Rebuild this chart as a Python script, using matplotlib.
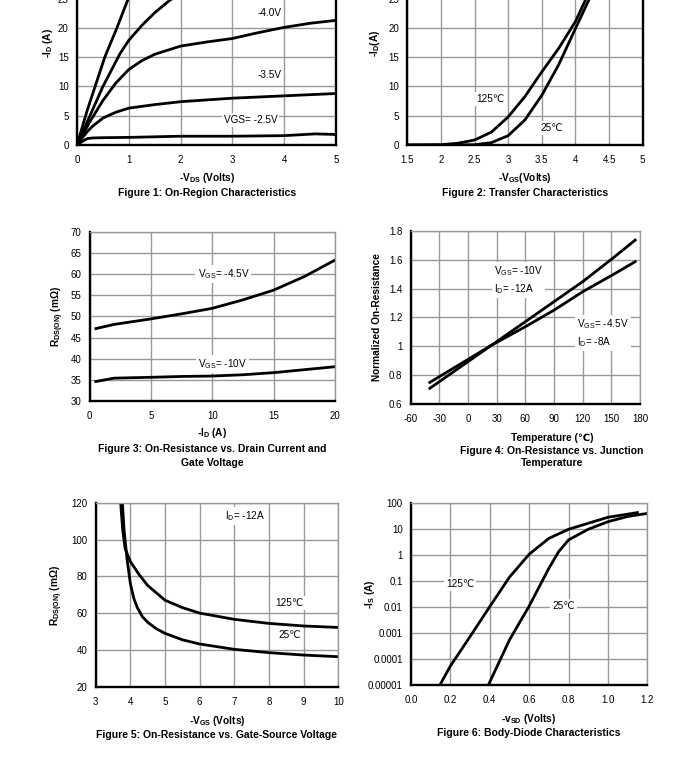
import numpy as np
import matplotlib.pyplot as plt

plt.rcParams['font.family'] = ['Liberation Sans', 'DejaVu Sans']
plt.rcParams['mathtext.default'] = 'regular'
plt.rcParams['axes.unicode_minus'] = False

W, H = 689, 767

# ---- Figure 1: on-region characteristics
vds_1 = [0, 0.1, 0.2, 0.3, 0.5, 1, 2, 3, 4, 4.6, 5]
id_1 = [0, 0.6, 1.1, 1.2, 1.25, 1.3, 1.5, 1.5, 1.6, 1.9, 1.8]
vds_2 = [0, 0.1, 0.2, 0.3, 0.5, 0.75, 1, 1.5, 2, 3, 4, 5]
id_2 = [0, 1.2, 2.3, 3.2, 4.6, 5.6, 6.3, 6.9, 7.4, 8.0, 8.4, 8.8]
vds_3 = [0, 0.1, 0.25, 0.5, 0.75, 1, 1.25, 1.5, 2, 2.5, 3, 3.5, 4, 4.5, 5]
id_3 = [0, 1.6, 4.0, 7.6, 10.6, 12.9, 14.4, 15.5, 16.9, 17.6, 18.2, 19.2, 20.1, 20.8, 21.3]
vds_4 = [0, 0.25, 0.5, 0.83, 1.0, 1.27, 1.5, 1.8, 2.5, 3]
id_4 = [0, 5, 10, 15.6, 17.9, 20.6, 22.6, 24.8, 28, 30]
vds_5 = [0, 0.2, 0.54, 0.77, 0.98, 1.3]
id_5 = [0, 6, 15.1, 20, 24.8, 31]

# ---- Figure 2: transfer characteristics
vgs_t = [1.5, 2.0, 2.25, 2.5, 2.75, 3.0, 3.25, 3.5, 3.75, 4.0, 4.15, 4.3]
id_125 = [0, 0.05, 0.3, 0.85, 2.2, 4.8, 8.3, 12.5, 16.5, 21.1, 24.8, 28]
vgs_t25 = [1.5, 2.0, 2.5, 2.75, 3.0, 3.25, 3.5, 3.75, 4.0, 4.2, 4.35]
id_25 = [0, 0, 0.05, 0.4, 1.6, 4.3, 8.5, 13.7, 19.9, 24.8, 28]

# ---- Figure 3: Rds(on) vs drain current
id_r = [0.5, 2, 5, 7.5, 10, 12.5, 15, 17.5, 20]
r_45 = [47.1, 48.1, 49.4, 50.6, 51.9, 53.9, 56.2, 59.4, 63.3]
r_10 = [34.6, 35.4, 35.6, 35.8, 35.9, 36.2, 36.7, 37.4, 38.1]

# ---- Figure 4: normalized Rds(on) vs temperature
temp = [-40, 25, 60, 90, 120, 150, 175]
rn_10 = [0.707, 1.008, 1.17, 1.309, 1.448, 1.603, 1.737]
rn_45 = [0.748, 1.008, 1.135, 1.25, 1.378, 1.49, 1.587]

# ---- Figure 5: Rds(on) vs gate-source voltage
vgs_r125 = [3.72, 3.78, 3.85, 4.0, 4.25, 4.5, 4.75, 5.0, 5.5, 6, 7, 8, 9, 10]
r_125 = [120, 105, 95, 88, 81, 75, 71, 67, 63, 60, 56.6, 54.4, 53, 52.2]
vgs_r25 = [3.77, 3.82, 3.9, 4.0, 4.1, 4.2, 4.35, 4.5, 4.75, 5.0, 5.5, 6, 7, 8, 9, 10]
r_25 = [120, 105, 90, 76, 68, 63, 58, 55, 51.5, 49, 45.5, 43.2, 40.3, 38.5, 37.2, 36.3]

# ---- Figure 6: body diode
vsd_125 = [0.147, 0.2, 0.3, 0.4, 0.5, 0.6, 0.7, 0.8, 0.9, 1.0, 1.15]
log_is_125 = [-5, -4.27, -3.14, -1.99, -0.86, 0.02, 0.63, 0.98, 1.21, 1.44, 1.62]
vsd_25 = [0.393, 0.5, 0.6, 0.7, 0.75, 0.8, 0.9, 1.0, 1.1, 1.2]
log_is_25 = [-5, -3.27, -1.97, -0.52, 0.12, 0.57, 0.98, 1.27, 1.47, 1.59]

fig = plt.figure(figsize=(W / 100, H / 100), dpi=100)

TICK = 7.0
ANN = 7.2
LAB = 7.3
CAP = 7.5


def px_axes(x0, x1, ytop, ybot):
    return fig.add_axes([x0 / W, 1 - ybot / H, (x1 - x0) / W, (ybot - ytop) / H])


def style(ax, right_dark=False):
    ax.grid(True, color='#999999', lw=1.0)
    ax.set_axisbelow(True)
    for s in ['left', 'bottom']:
        ax.spines[s].set_color('black')
        ax.spines[s].set_linewidth(1.7)
    for s in ['top', 'right']:
        ax.spines[s].set_color('#999999')
        ax.spines[s].set_linewidth(1.0)
    if right_dark:
        ax.spines['right'].set_color('black')
        ax.spines['right'].set_linewidth(1.7)
    ax.tick_params(length=0, labelsize=TICK)
    ax.tick_params(axis='x', pad=7.5)
    ax.tick_params(axis='y', pad=6)


def label(ax, x, y, s, ha='center'):
    ax.text(x, y, s, fontsize=ANN, ha=ha, va='center', zorder=5,
            bbox=dict(facecolor='white', edgecolor='none', pad=1.5))


def ftext(x, y, s, rot=0, size=LAB):
    fig.text(x / W, 1 - y / H, s, fontsize=size, fontweight='bold',
             ha='center', va='center', rotation=rot)


lw = 2.0

# Figure 1
ax = px_axes(77, 336, 145 - 30 * 5.852, 145)
style(ax, right_dark=True)
for xs, ys in [(vds_1, id_1), (vds_2, id_2), (vds_3, id_3), (vds_4, id_4), (vds_5, id_5)]:
    ax.plot(xs, ys, color='black', lw=lw)
ax.set_xlim(0, 5)
ax.set_ylim(0, 30)
ax.set_xticks(range(0, 6))
ax.set_yticks(range(0, 31, 5))
label(ax, 3.71, 22.6, '-4.0V')
label(ax, 3.71, 12.0, '-3.5V')
label(ax, 3.35, 4.3, 'VGS= -2.5V')
ftext(207, 178, '-V$_{DS}$ (Volts)')
ftext(207, 193, 'Figure 1: On-Region Characteristics', size=CAP)
ftext(48, 43, '-I$_D$ (A)', rot=90)

# Figure 2
ax = px_axes(407.3, 642.7, 145 - 30 * 5.852, 145)
style(ax, right_dark=True)
ax.plot(vgs_t, id_125, color='black', lw=lw)
ax.plot(vgs_t25, id_25, color='black', lw=lw)
ax.set_xlim(1.5, 5)
ax.set_ylim(0, 30)
ax.set_xticks([1.5, 2, 2.5, 3, 3.5, 4, 4.5, 5])
ax.set_xticklabels(['1.5', '2', '2.5', '3', '3.5', '4', '4.5', '5'])
ax.set_yticks(range(0, 31, 5))
label(ax, 2.73, 7.9, '125℃')
label(ax, 3.64, 2.85, '25℃')
ftext(525, 178, '-V$_{GS}$(Volts)')
ftext(525, 193, 'Figure 2: Transfer Characteristics', size=CAP)
ftext(375, 43, '-I$_D$(A)', rot=90)

# Figure 3
ax = px_axes(89.7, 335, 231.7, 401)
style(ax)
ax.plot(id_r, r_45, color='black', lw=lw)
ax.plot(id_r, r_10, color='black', lw=lw)
ax.set_xlim(0, 20)
ax.set_ylim(30, 70)
ax.set_xticks(range(0, 21, 5))
ax.set_yticks(range(30, 71, 5))
label(ax, 10.9, 59.9, 'V$_{GS}$= -4.5V')
label(ax, 10.8, 38.7, 'V$_{GS}$= -10V')
ftext(212, 433, '-I$_D$ (A)')
ftext(212, 449, 'Figure 3: On-Resistance vs. Drain Current and', size=CAP)
ftext(212, 463, 'Gate Voltage', size=CAP)
ftext(58, 316, 'R$_{DS(ON)}$ (m$\\Omega$)', rot=90)

# Figure 4
ax = px_axes(410.7, 640, 231, 403.7)
style(ax)
ax.plot(temp, rn_10, color='black', lw=lw)
ax.plot(temp, rn_45, color='black', lw=lw)
ax.set_xlim(-60, 180)
ax.set_ylim(0.6, 1.8)
ax.set_xticks(range(-60, 181, 30))
ax.set_yticks([0.6, 0.8, 1, 1.2, 1.4, 1.6, 1.8])
ax.set_yticklabels(['0.6', '0.8', '1', '1.2', '1.4', '1.6', '1.8'])
ax.text(27, 1.46, 'V$_{GS}$= -10V\nI$_D$= -12A', fontsize=ANN, ha='left', va='center',
        linespacing=1.4, zorder=5, bbox=dict(facecolor='white', edgecolor='none', pad=1.5))
ax.text(114, 1.09, 'V$_{GS}$= -4.5V\nI$_D$= -8A', fontsize=ANN, ha='left', va='center',
        linespacing=1.4, zorder=5, bbox=dict(facecolor='white', edgecolor='none', pad=1.5))
ftext(552, 438, 'Temperature (℃)')
ftext(552, 451, 'Figure 4: On-Resistance vs. Junction', size=CAP)
ftext(552, 463, 'Temperature', size=CAP)
ftext(377, 317, 'Normalized On-Resistance', rot=90)

# Figure 5
ax = px_axes(95.7, 338.3, 502.7, 686.7)
style(ax)
ax.plot(vgs_r125, r_125, color='black', lw=lw)
ax.plot(vgs_r25, r_25, color='black', lw=lw)
ax.set_xlim(3, 10)
ax.set_ylim(20, 120)
ax.set_xticks(range(3, 11))
ax.set_yticks(range(20, 121, 20))
label(ax, 7.3, 112.8, 'I$_D$= -12A')
label(ax, 8.6, 65.6, '125℃')
label(ax, 8.6, 48, '25℃')
ftext(217, 721, '-V$_{GS}$ (Volts)')
ftext(217, 735, 'Figure 5: On-Resistance vs. Gate-Source Voltage', size=CAP)
ftext(57, 595, 'R$_{DS(ON)}$ (m$\\Omega$)', rot=90)

# Figure 6
ax = px_axes(411, 647.3, 502.7, 685)
style(ax)
ax.plot(vsd_125, 10.0 ** np.array(log_is_125), color='black', lw=lw)
ax.plot(vsd_25, 10.0 ** np.array(log_is_25), color='black', lw=lw)
ax.set_yscale('log')
ax.set_xlim(0, 1.2)
ax.set_ylim(1e-5, 100)
ax.set_xticks([0, 0.2, 0.4, 0.6, 0.8, 1.0, 1.2])
ax.set_xticklabels(['0.0', '0.2', '0.4', '0.6', '0.8', '1.0', '1.2'])
ax.set_yticks([1e-5, 1e-4, 1e-3, 1e-2, 1e-1, 1, 10, 100])
ax.set_yticklabels(['0.00001', '0.0001', '0.001', '0.01', '0.1', '1', '10', '100'])
ax.minorticks_off()
ax.grid(True, which='major', color='#999999', lw=1.0)
label(ax, 0.249, 0.074, '125℃')
label(ax, 0.773, 0.0107, '25℃')
ftext(529, 719, '-v$_{SD}$ (Volts)')
ftext(529, 733, 'Figure 6: Body-Diode Characteristics', size=CAP)
ftext(370, 594, '-I$_S$ (A)', rot=90)

fig.savefig('out.png', dpi=100)
